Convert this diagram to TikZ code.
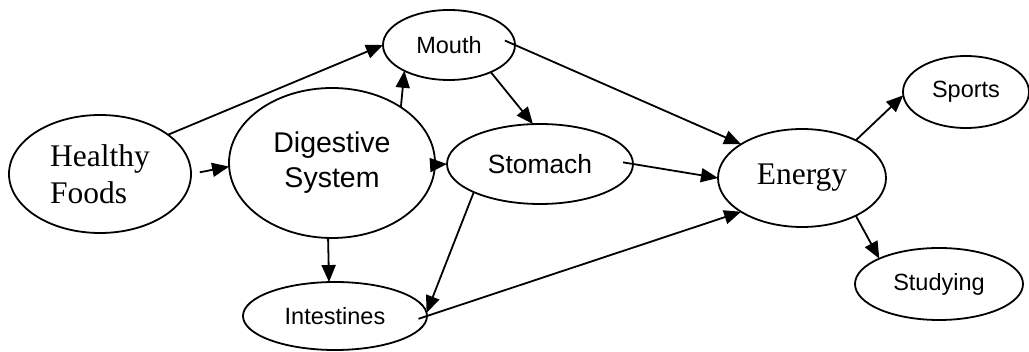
\documentclass[tikz,border=0pt]{standalone}
\usepackage{fontspec}
\setmainfont{Liberation Serif}
\setsansfont{Liberation Sans}
\usetikzlibrary{shapes.geometric,arrows.meta}
\tikzset{
  blob/.style={draw,ellipse,line width=1.8pt,inner sep=0pt,outer sep=0pt},
  arial/.style={font=\sffamily\fontsize{23.5}{27}\selectfont},
  times/.style={font=\fontsize{31.5}{37}\selectfont},
  link/.style={line width=1.8pt,-{Triangle[length=17pt,width=14pt]}}
}
\begin{document}
\begin{tikzpicture}[x=1pt,y=-1pt]
\useasboundingbox (0,0) rectangle (1029,352);
% the ellipses
\node[blob,times,align=left,minimum width=182pt,minimum height=118pt] (food) at (100,174) {Healthy\\Foods};
\node[blob,align=center,font=\sffamily\fontsize{28.5}{35}\selectfont,minimum width=206pt,minimum height=150pt] (dig) at (332,163) {Digestive\\System};
\node[blob,arial,minimum width=132pt,minimum height=70pt] (mouth) at (449,45) {Mouth};
\node[blob,font=\sffamily\fontsize{26.4}{30}\selectfont,minimum width=186pt,minimum height=80pt] (stom) at (540,164) {Stomach};
\node[blob,arial,minimum width=184pt,minimum height=68pt] (intest) at (335,316) {Intestines};
\node[blob,times,minimum width=168pt,minimum height=98pt] (energy) at (802,178) {Energy};
\node[blob,arial,minimum width=126pt,minimum height=72pt] (sports) at (966,92) {Sports};
\node[blob,arial,minimum width=168pt,minimum height=72pt] (study) at (939,284) {Studying};
% the arrows
\draw[link] (food.30) -- (mouth.180);
\draw[link,shorten <=9pt] (food.0) -- (dig.182);
\draw[link] (dig.39) -- (mouth.210);
\draw[link,shorten <=-8pt] (dig.-1) -- (stom.180);
\draw[link] (dig.-93) -- (intest.100);
\draw[link] (mouth.-33) -- (stom.100);
\draw[link,shorten <=-11pt] (mouth.0) -- (energy.151);
\draw[link,shorten <=-10pt] (stom.0) -- (energy.180);
\draw[link] (stom.203) -- (intest.2);
\draw[link,shorten <=-9pt] (intest.0) -- (energy.209);
\draw[link] (energy.35) -- (sports.183);
\draw[link] (energy.-35) -- (study.157);
\end{tikzpicture}
\end{document}
